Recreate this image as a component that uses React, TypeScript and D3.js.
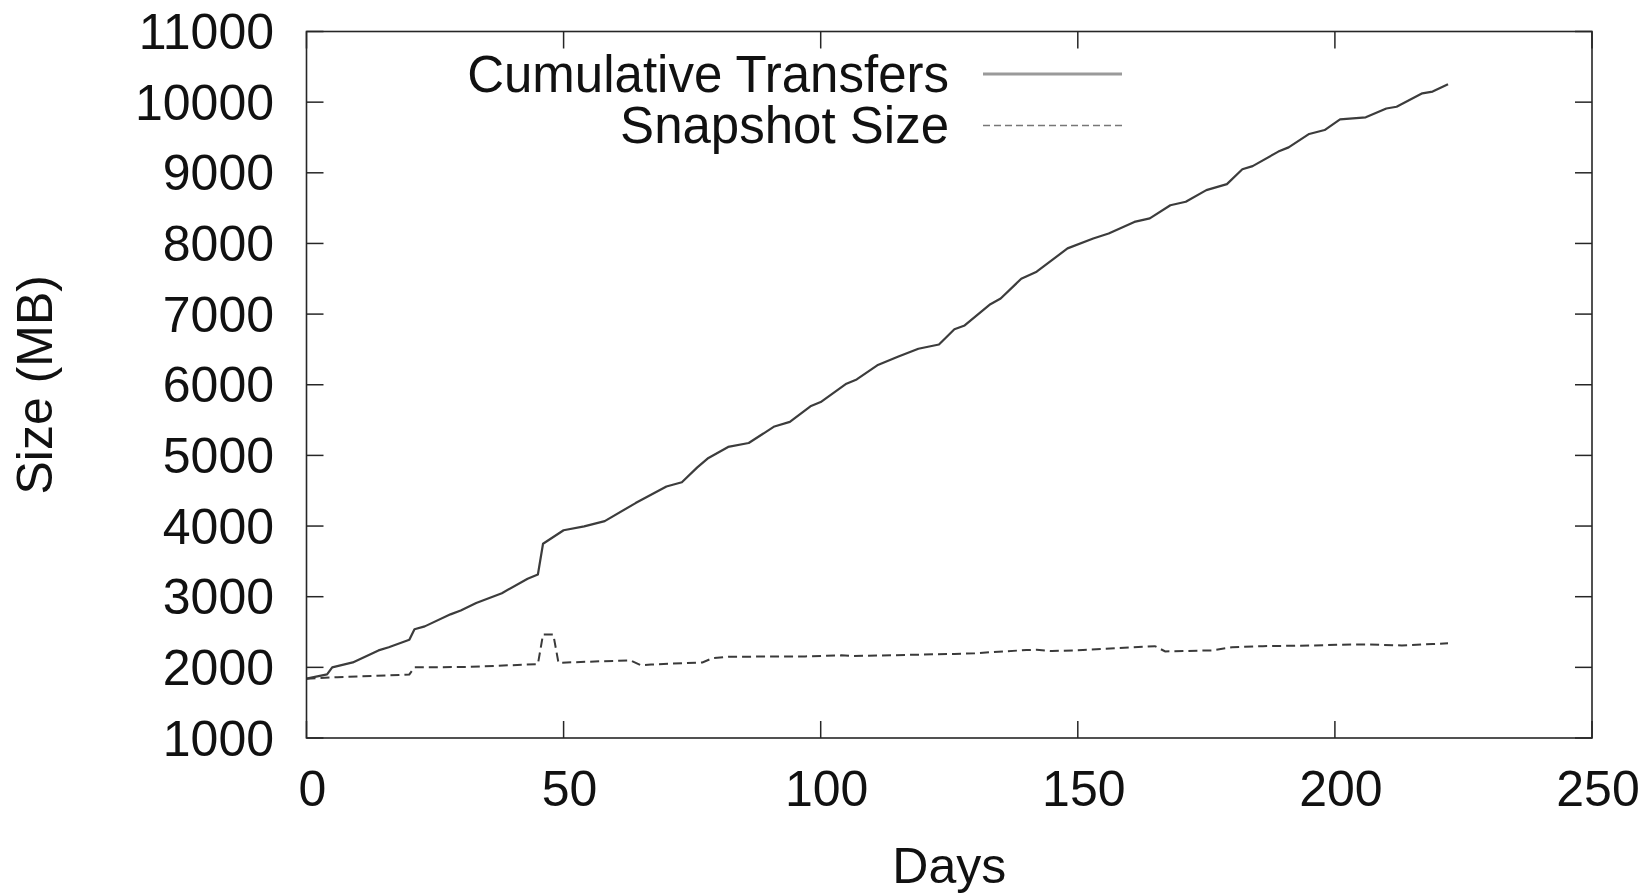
import React from "react";
import * as d3 from "d3";

// Cumulative data transferred, by day
const cumDays = [0, 4, 5, 9, 14, 16, 20, 21, 23, 28, 30, 33, 38, 43, 45, 46, 50, 54, 58, 64, 70, 73, 76, 78, 82, 86, 91, 94, 98, 100, 105, 107, 111, 115, 119, 123, 126, 128, 133, 135, 139, 142, 148, 153, 156, 161, 164, 168, 171, 175, 179, 182, 184, 189, 191, 195, 198, 201, 206, 210, 212, 217, 219, 222];
const cumMB = [1840, 1900, 2000, 2070, 2240, 2285, 2390, 2540, 2580, 2750, 2805, 2910, 3050, 3255, 3315, 3750, 3940, 3995, 4070, 4325, 4560, 4620, 4830, 4955, 5120, 5175, 5410, 5475, 5695, 5755, 6015, 6075, 6275, 6395, 6510, 6570, 6785, 6840, 7140, 7220, 7500, 7600, 7930, 8070, 8140, 8305, 8355, 8540, 8590, 8755, 8840, 9050, 9095, 9300, 9360, 9550, 9605, 9755, 9785, 9910, 9935, 10125, 10150, 10255];

// Snapshot size, by day
const snapDays = [0, 6, 19, 20, 21, 31, 45, 46, 48, 49, 63, 65, 67, 77, 79, 82, 97, 104, 106, 126, 130, 140, 142, 145, 151, 165, 167, 176, 180, 186, 196, 201, 206, 213, 219, 222];
const snapMB = [1840, 1860, 1895, 1900, 2000, 2005, 2045, 2465, 2465, 2065, 2100, 2030, 2040, 2070, 2130, 2150, 2155, 2170, 2160, 2190, 2200, 2245, 2250, 2230, 2245, 2300, 2225, 2240, 2285, 2300, 2310, 2320, 2325, 2310, 2330, 2340];

const xTicks = [0, 50, 100, 150, 200, 250];
const yTicks = [1000, 2000, 3000, 4000, 5000, 6000, 7000, 8000, 9000, 10000, 11000];

const seriesNames = ["Cumulative Transfers", "Snapshot Size"];
const xTitle = "Days";
const yTitle = "Size (MB)";

const W = 1652;
const H = 894;
const left = 306.5;
const right = 1592;
const top = 31.5;
const bottom = 738;
const FONT = "'Liberation Sans', Arial, Helvetica, sans-serif";

export default function App() {
  const x = d3.scaleLinear().domain([0, 250]).range([left, right]);
  const y = d3.scaleLinear().domain([1000, 11000]).range([bottom, top]);

  const line = d3
    .line<[number, number]>()
    .x((d) => x(d[0]))
    .y((d) => y(d[1]));

  const cumPts = cumDays.map((d, i) => [d, cumMB[i]] as [number, number]);
  const snapPts = snapDays.map((d, i) => [d, snapMB[i]] as [number, number]);

  const tickLen = 17;
  const axisColor = "#262626";

  return (
    <svg
      width={W}
      height={H}
      style={{ position: "absolute", left: 0, top: 0, background: "#fff" }}
      fontFamily={FONT}
    >
      <rect x={0} y={0} width={W} height={H} fill="#fff" />

      {/* ticks on all four sides */}
      {xTicks.map((t) => (
        <g key={"xt" + t}>
          <line x1={x(t)} x2={x(t)} y1={bottom} y2={bottom - tickLen} stroke={axisColor} strokeWidth={1.5} />
          <line x1={x(t)} x2={x(t)} y1={top} y2={top + tickLen} stroke={axisColor} strokeWidth={1.5} />
          <text x={x(t) + 6} y={bottom + 68} fontSize={50} textAnchor="middle" fill="#111">
            {t}
          </text>
        </g>
      ))}
      {yTicks.map((t) => (
        <g key={"yt" + t}>
          <line x1={left} x2={left + tickLen} y1={y(t)} y2={y(t)} stroke={axisColor} strokeWidth={1.5} />
          <line x1={right} x2={right - tickLen} y1={y(t)} y2={y(t)} stroke={axisColor} strokeWidth={1.5} />
          <text x={274} y={y(t) + 17.5} fontSize={50} textAnchor="end" fill="#111">
            {t}
          </text>
        </g>
      ))}

      {/* data */}
      <path d={line(cumPts) ?? ""} fill="none" stroke="#3c3c3c" strokeWidth={2.2} strokeLinejoin="round" />
      <path
        d={line(snapPts) ?? ""}
        fill="none"
        stroke="#3a3a3a"
        strokeWidth={2}
        strokeDasharray="9 5"
      />

      {/* frame */}
      <rect
        x={left}
        y={top}
        width={right - left}
        height={bottom - top}
        fill="none"
        stroke={axisColor}
        strokeWidth={1.6}
      />

      {/* legend */}
      <text x={949} y={92} fontSize={51} textAnchor="end" fill="#111">
        {seriesNames[0]}
      </text>
      <line x1={983} x2={1122} y1={74} y2={74} stroke="#9a9a9a" strokeWidth={3} />
      <text x={949} y={143} fontSize={51} textAnchor="end" fill="#111">
        {seriesNames[1]}
      </text>
      <line x1={983} x2={1122} y1={125.5} y2={125.5} stroke="#777" strokeWidth={1.5} strokeDasharray="7 4" />

      {/* axis titles */}
      <text x={(left + right) / 2} y={883} fontSize={50} textAnchor="middle" fill="#111">
        {xTitle}
      </text>
      <text
        transform={`translate(52, ${(top + bottom) / 2}) rotate(-90)`}
        fontSize={50}
        textAnchor="middle"
        fill="#111"
      >
        {yTitle}
      </text>
    </svg>
  );
}
